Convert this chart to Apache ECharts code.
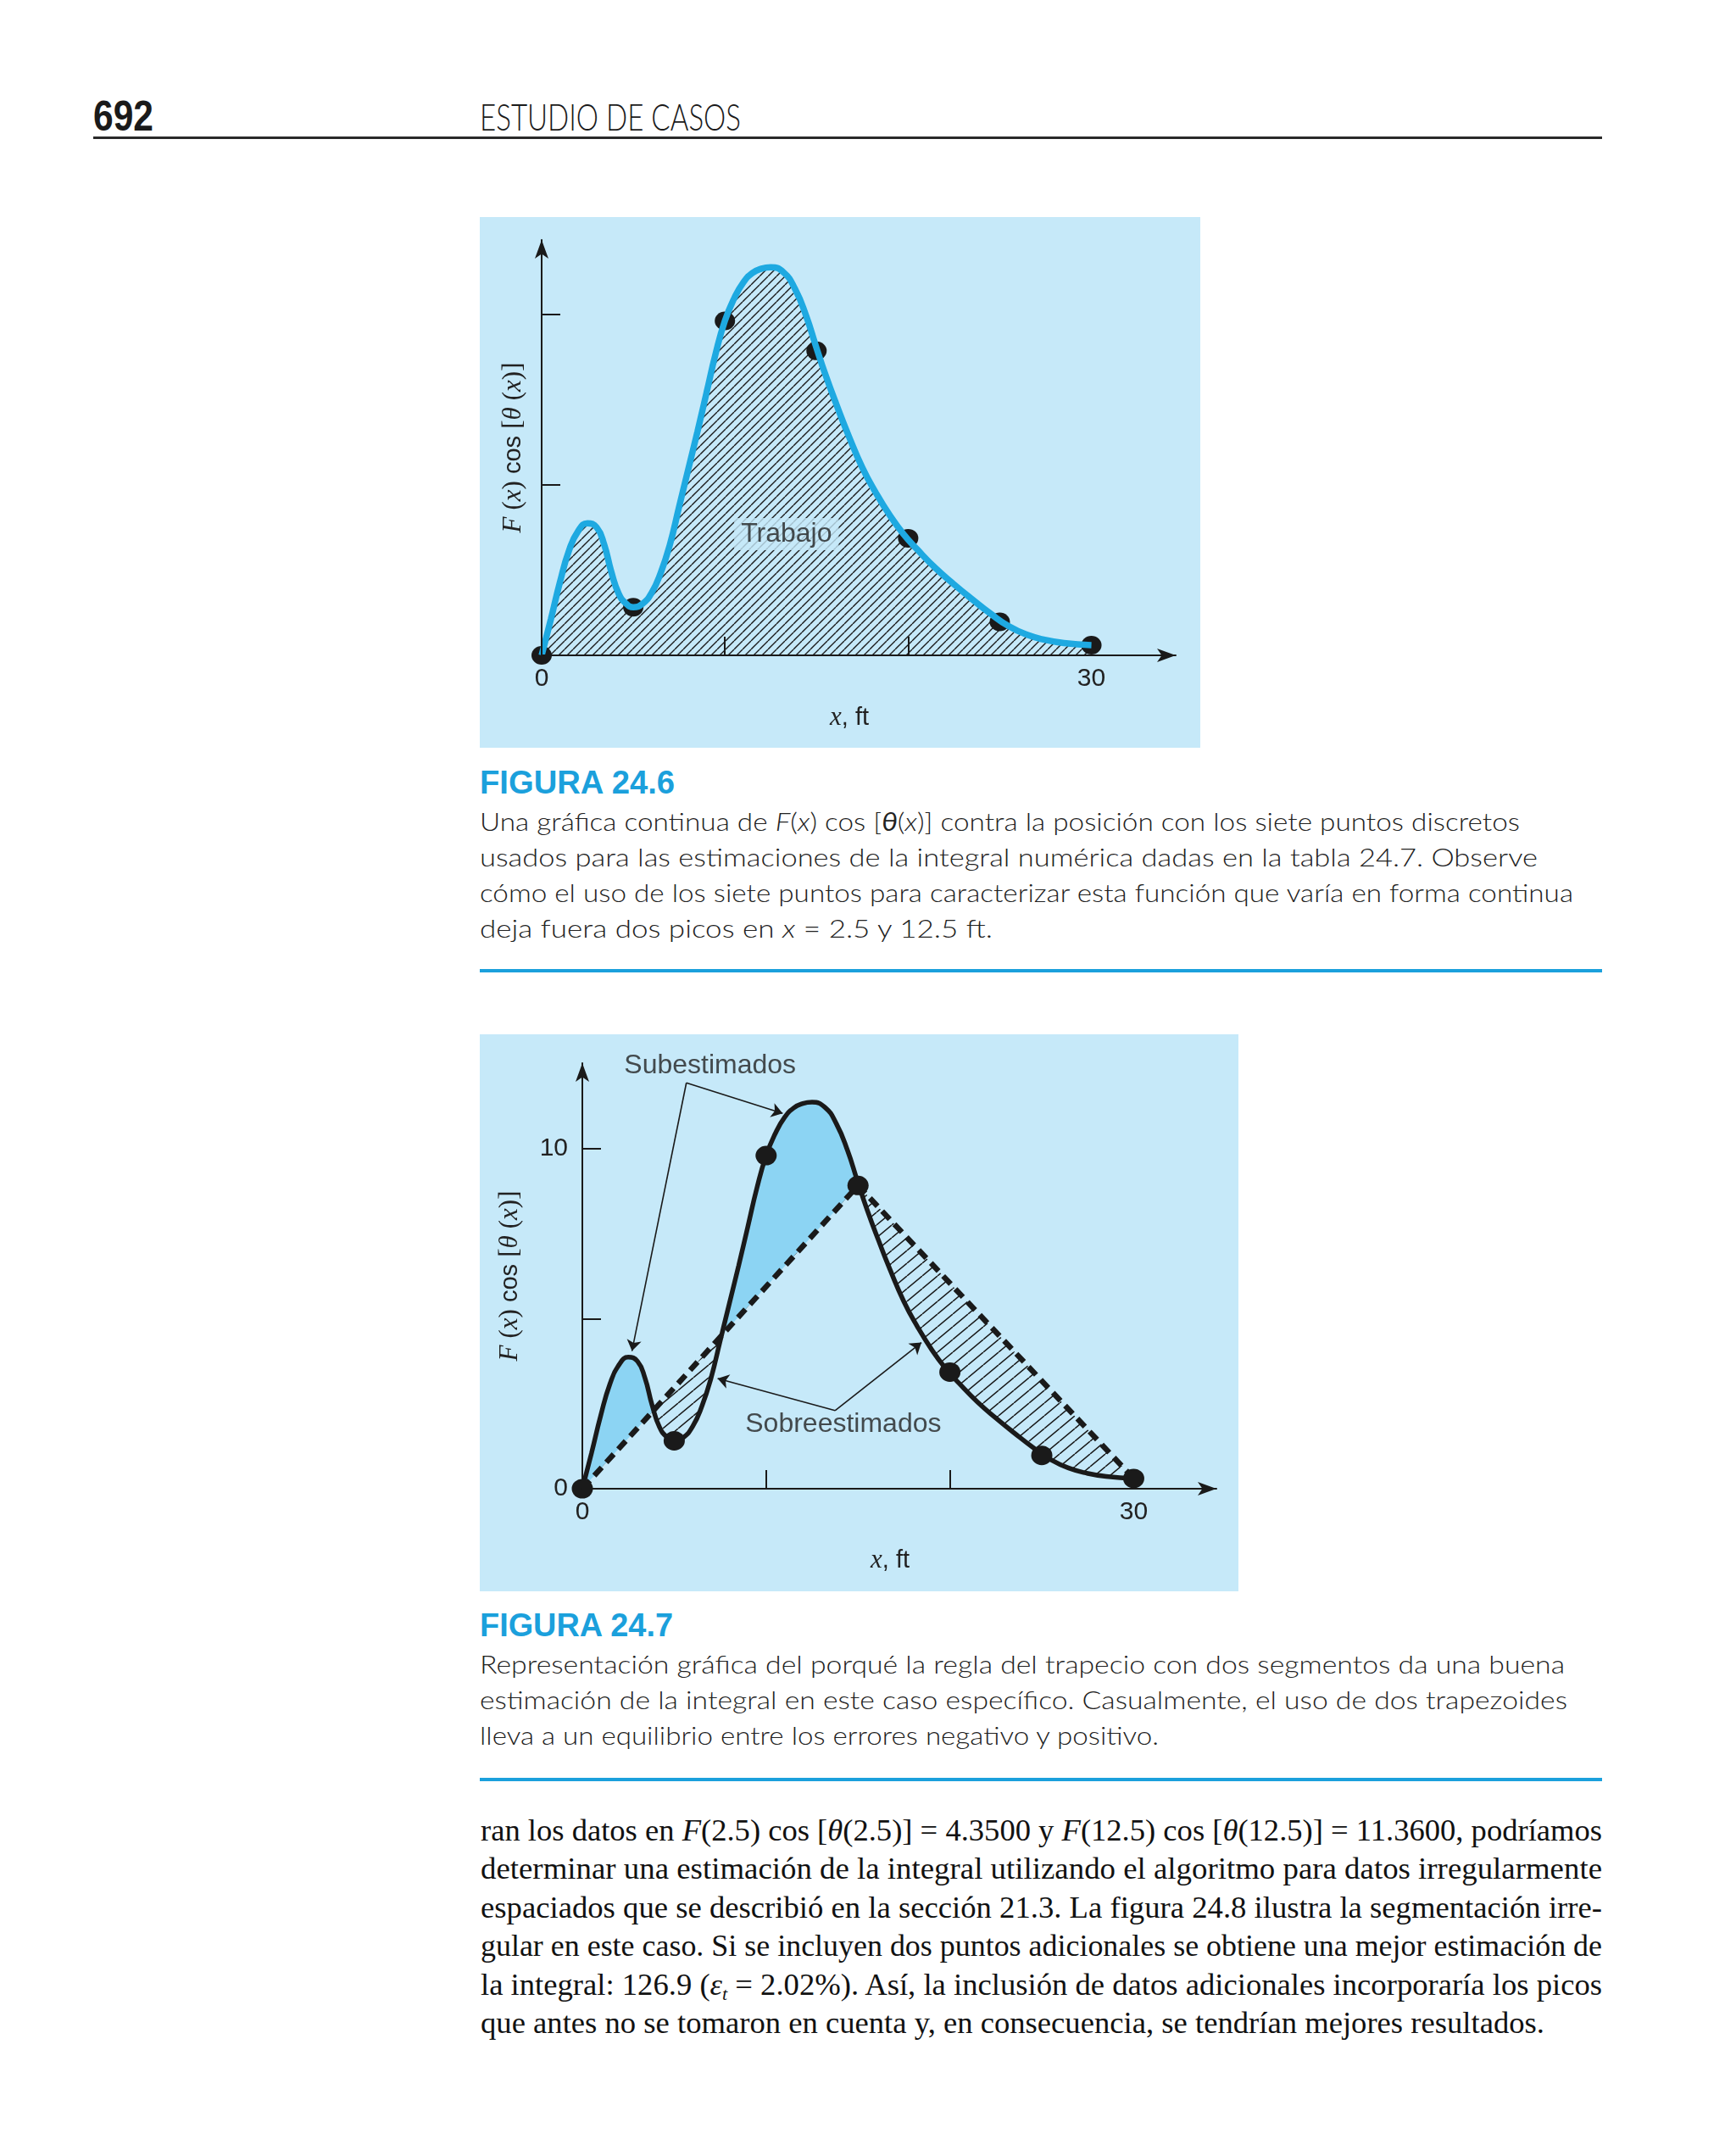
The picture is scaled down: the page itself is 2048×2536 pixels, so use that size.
<!DOCTYPE html>
<html><head><meta charset="utf-8">
<script src="https://cdn.jsdelivr.net/npm/echarts@6/dist/echarts.min.js"></script>
<style>
html,body{margin:0;padding:0;background:#fff;}
#page{position:relative;width:2048px;height:2536px;overflow:hidden;background:#fff;}
.t{position:absolute;white-space:nowrap;transform-origin:0 0;color:#222;}
.t sub{font-size:0.6em;line-height:0;vertical-align:-0.3em;}
.rule{position:absolute;}
#fig1{position:absolute;left:566px;top:256px;width:850px;height:626px;background:#c6e9f9;}
#fig2{position:absolute;left:566px;top:1220px;width:895px;height:657px;background:#c6e9f9;}
</style></head><body><div id="page">
<div id="fig1"></div><div id="fig2"></div>
</div>
<script>
// ---------- data ----------
const curveX = [0, 0.5, 1, 1.5, 2, 2.5, 3, 3.4, 3.8, 4.2, 4.6, 5, 5.5, 6, 6.5, 7, 7.5, 8, 8.5, 9, 9.5, 10, 10.5, 11, 11.5, 12, 12.5, 13.2, 13.82, 14.43, 14.97, 15.5, 16.12, 16.74, 17.5, 18.25, 19, 19.75, 20.5, 21.5, 22.5, 23.5, 24.5, 25.5, 26.5, 27.5, 28.5, 30];
const curveY = [0, 1.05, 2.15, 3.08, 3.65, 3.87, 3.75, 3.27, 2.45, 1.81, 1.52, 1.41, 1.51, 1.83, 2.42, 3.25, 4.35, 5.45, 6.55, 7.7, 8.85, 9.8, 10.45, 10.92, 11.2, 11.33, 11.37, 11.22, 10.74, 9.95, 9.05, 8.2, 7.3, 6.45, 5.5, 4.75, 4.1, 3.55, 3.1, 2.55, 2.08, 1.64, 1.22, 0.85, 0.6, 0.45, 0.36, 0.30];
const pointX = [0, 5, 10, 15, 20, 25, 30];
const pointY = [0, 1.41, 9.8, 8.92, 3.43, 0.98, 0.30];
const trapIdx = [0, 3, 6];              // the two trapezoid segments use points 0, 15, 30
const xTickMarks = [10, 20];
const xTickLabels = [0, 30];
const yTickMarks = [5, 10];
const yTickLabels = [0, 10];

const headerNum = '692';
const headerTitle = 'ESTUDIO DE CASOS';
const cap1Title = 'FIGURA 24.6';
const cap1Lines = [
  'Una gráfica continua de <i>F</i>(<i>x</i>) cos [<b><i>θ</i></b>(<i>x</i>)] contra la posición con los siete puntos discretos',
  'usados para las estimaciones de la integral numérica dadas en la tabla 24.7. Observe',
  'cómo el uso de los siete puntos para caracterizar esta función que varía en forma continua',
  'deja fuera dos picos en <i>x</i> = 2.5 y 12.5 ft.'
];
const cap2Title = 'FIGURA 24.7';
const cap2Lines = [
  'Representación gráfica del porqué la regla del trapecio con dos segmentos da una buena',
  'estimación de la integral en este caso específico. Casualmente, el uso de dos trapezoides',
  'lleva a un equilibrio entre los errores negativo y positivo.'
];
const paraLines = [
  'ran los datos en <i>F</i>(2.5) cos [<i>θ</i>(2.5)] = 4.3500 y <i>F</i>(12.5) cos [<i>θ</i>(12.5)] = 11.3600, podríamos',
  'determinar una estimación de la integral utilizando el algoritmo para datos irregularmente',
  'espaciados que se describió en la sección 21.3. La figura 24.8 ilustra la segmentación irre-',
  'gular en este caso. Si se incluyen dos puntos adicionales se obtiene una mejor estimación de',
  'la integral: 126.9 (<i>ε<sub>t</sub></i> = 2.02%). Así, la inclusión de datos adicionales incorporaría los picos',
  'que antes no se tomaron en cuenta y, en consecuencia, se tendrían mejores resultados.'
];

// ---------- page text ----------
const page = document.getElementById('page');
const K = {'Liberation Sans':0.8465,'Liberation Serif':0.8375,'Lato':0.887};
function place(html, x, base, fs, fam, o){
  o = o || {};
  const d = document.createElement('div');
  d.className = 't';
  d.innerHTML = html;
  d.style.left = x + 'px';
  d.style.fontSize = fs + 'px';
  d.style.lineHeight = fs + 'px';
  d.style.fontFamily = '"' + fam + '"';
  d.style.top = (base - K[fam]*fs) + 'px';
  if (o.weight) d.style.fontWeight = o.weight;
  if (o.color) d.style.color = o.color;
  page.appendChild(d);
  if (o.w) {
    const sw = d.getBoundingClientRect().width;
    d.style.transform = 'scaleX(' + (o.w/sw) + ')';
  }
  return d;
}
function rule(x, y, w, h, c){
  const r = document.createElement('div');
  r.className = 'rule';
  r.style.left = x+'px'; r.style.top = y+'px'; r.style.width = w+'px'; r.style.height = h+'px'; r.style.background = c;
  page.appendChild(r);
}
const CYAN = '#1ba0dc';
place(headerNum, 110, 154, 50, 'Liberation Sans', {weight:700, w:71, color:'#1a1a1a'});
place(headerTitle, 566, 154, 43, 'Lato', {weight:300, w:308, color:'#1a1a1a'});
rule(110, 161, 1780, 3, '#2a2a2a');

place(cap1Title, 566, 936, 38, 'Liberation Sans', {weight:700, w:230, color:CYAN});
const cap1B = [980, 1022, 1064, 1106], cap1W = [1227, 1248, 1290, 605];
cap1Lines.forEach((l,i)=>place(l, 566, cap1B[i], 30, 'Lato', {weight:300, w:cap1W[i]}));
rule(566, 1143, 1324, 4, CYAN);

place(cap2Title, 566, 1930, 38, 'Liberation Sans', {weight:700, w:228, color:CYAN});
const cap2B = [1974, 2016, 2058], cap2W = [1280, 1283, 801];
cap2Lines.forEach((l,i)=>place(l, 566, cap2B[i], 30, 'Lato', {weight:300, w:cap2W[i]}));
rule(566, 2097, 1324, 4, CYAN);

const paraB = [2171, 2216, 2262, 2307, 2353, 2398], paraW = [1323, 1323, 1323, 1323, 1323, 1255];
paraLines.forEach((l,i)=>place(l, 567, paraB[i], 35, 'Liberation Serif', {w:paraW[i], color:'#111'}));

// ---------- charts ----------
const AX = '#1a1a1a', BG = '#c6e9f9', FONT = 'Liberation Sans';
function hatch(w, h, lw, color){
  const c = document.createElement('canvas');
  c.width = w; c.height = h;
  const g = c.getContext('2d');
  g.strokeStyle = color; g.lineWidth = lw;
  g.beginPath();
  for (const off of [-w, 0, w]) { g.moveTo(off, h); g.lineTo(off + w, 0); }
  g.stroke();
  return {image: c, repeat: 'repeat'};
}
const curve = curveX.map((x,i)=>[x, curveY[i]]);
const points = pointX.map((x,i)=>[x, pointY[i]]);
const trap = trapIdx.map(i=>[pointX[i], pointY[i]]);
function trapAt(x){
  for (let i=0;i<trap.length-1;i++){
    const a=trap[i], b=trap[i+1];
    if (x>=a[0] && x<=b[0]) return a[1] + (b[1]-a[1])*(x-a[0])/(b[0]-a[0]);
  }
  return 0;
}
// lower envelope of curve and trapezoid (masks the area below both)
const lower = [];
for (let i=0;i<curve.length;i++){
  const [x,y] = curve[i], d = trapAt(x);
  if (i>0){
    const [px,py] = curve[i-1], pd = trapAt(px);
    if ((py-pd)*(y-d) < 0){
      const t = (pd-py)/((y-py)-(d-pd));
      lower.push([px + t*(x-px), py + t*(y-py)]);
    }
  }
  lower.push([x, Math.min(y,d)]);
}

const rich = {
  i:{fontFamily:'Liberation Serif', fontStyle:'italic', fontSize:31, color:'#222'},
  r:{fontFamily:'Liberation Serif', fontSize:31, color:'#222'},
  s:{fontFamily:FONT, fontSize:29, color:'#222'}
};
const yName = '{i|F} {r|(}{i|x}{r|)} {s|cos} {r|[}{i|θ} {r|(}{i|x}{r|)]}';
const xName = '{i|x}{s|, ft}';
function xAxisOpt(max, gap){
  return {type:'value', min:0, max:max, z:10,
    axisLine:{onZero:true, symbol:['none','arrow'], symbolSize:[12,22], lineStyle:{color:AX, width:2}},
    axisTick:{show:true, inside:true, length:22, customValues:xTickMarks, lineStyle:{color:AX, width:2}},
    axisLabel:{customValues:xTickLabels, fontFamily:FONT, fontSize:30, color:'#222', margin:13},
    splitLine:{show:false},
    name:xName, nameLocation:'middle', nameGap:gap,
    nameTextStyle:{fontFamily:FONT, fontSize:30, color:'#222', padding:[0,22,0,0], rich:rich}};
}
function yAxisOpt(max, labels, gap){
  return {type:'value', min:0, max:max, z:10,
    axisLine:{show:true, symbol:['none','arrow'], symbolSize:[12,22], lineStyle:{color:AX, width:2}},
    axisTick:{show:true, inside:true, length:22, customValues:yTickMarks, lineStyle:{color:AX, width:2}},
    axisLabel:labels ? {customValues:labels, fontFamily:FONT, fontSize:30, color:'#222', margin:17} : {show:false},
    splitLine:{show:false},
    name:yName, nameLocation:'middle', nameGap:gap, nameRotate:90,
    nameTextStyle:{fontFamily:FONT, fontSize:29, color:'#222', rich:rich}};
}
const SMOOTH = 0.5;
const DOT = {color:'#1a1a1a', opacity:1};

// Figure 24.6
const c1 = echarts.init(document.getElementById('fig1'), null, {renderer:'canvas'});
c1.setOption({
  animation:false,
  grid:{left:73, top:27, width:748, height:490},
  xAxis:xAxisOpt(34.6, 58),
  yAxis:yAxisOpt(12.17, null, 18),
  series:[
    {type:'line', data:curve, smooth:SMOOTH, showSymbol:false, symbol:'none',
     lineStyle:{width:0, opacity:0}, areaStyle:{color:hatch(10,10,1.4,'#1a1a1a'), opacity:1}, z:1},
    {type:'scatter', data:points, symbolSize:[24,22], itemStyle:DOT, z:2, clip:false},
    {type:'line', data:curve, smooth:SMOOTH, showSymbol:false, symbol:'none',
     lineStyle:{color:'#1ea9e1', width:7.5}, z:3},
    {type:'scatter', data:[[13.36,3.55]], symbolSize:1, itemStyle:{color:'transparent'}, z:5, clip:false,
     label:{show:true, position:'inside', formatter:'Trabajo', fontFamily:FONT, fontSize:32, color:'#222',
            backgroundColor:BG, padding:[3,8]}}
  ]
});

// Figure 24.7
const c2 = echarts.init(document.getElementById('fig2'), null, {renderer:'canvas'});
c2.setOption({
  animation:false,
  grid:{left:121, top:34, width:748, height:502},
  xAxis:xAxisOpt(34.5, 69),
  yAxis:yAxisOpt(12.52, yTickLabels, 70),
  series:[
    {type:'line', data:curve, smooth:SMOOTH, showSymbol:false, symbol:'none',
     lineStyle:{width:0, opacity:0}, areaStyle:{color:'#8cd4f3', opacity:1}, z:1},
    {type:'line', data:trap, showSymbol:false, symbol:'none',
     lineStyle:{width:0, opacity:0}, areaStyle:{color:hatch(18,15,1.5,'#1a1a1a'), opacity:1}, z:2},
    {type:'line', data:lower, smooth:SMOOTH, showSymbol:false, symbol:'none',
     lineStyle:{width:0, opacity:0}, areaStyle:{color:BG, opacity:1}, z:3},
    {type:'line', data:trap, showSymbol:false, symbol:'none',
     lineStyle:{color:'#1a1a1a', width:6.5, type:[13,8], cap:'butt'}, z:4},
    {type:'line', data:curve, smooth:SMOOTH, showSymbol:false, symbol:'none',
     lineStyle:{color:'#1a1a1a', width:5.5}, z:5},
    {type:'scatter', data:points, symbolSize:[25,23], itemStyle:DOT, z:6, clip:false},
    {type:'lines', coordinateSystem:'cartesian2d', symbol:['none','arrow'], symbolSize:13, z:7,
     lineStyle:{color:'#1a1a1a', width:1.6, opacity:1},
     data:[
       {coords:[[5.66,11.94],[2.7,4.05]]},
       {coords:[[5.66,11.94],[10.9,11.04]]},
       {coords:[[13.75,2.3],[7.36,3.24]]},
       {coords:[[13.75,2.3],[18.45,4.3]]}
     ]},
    {type:'scatter', symbolSize:1, itemStyle:{color:'transparent'}, z:8, clip:false,
     label:{show:true, position:'inside', fontFamily:FONT, fontSize:32, color:'#222', formatter:p=>p.name},
     data:[{name:'Subestimados', value:[6.95,12.45]}, {name:'Sobreestimados', value:[14.2,1.9]}]}
  ]
});
</script>
</body></html>
